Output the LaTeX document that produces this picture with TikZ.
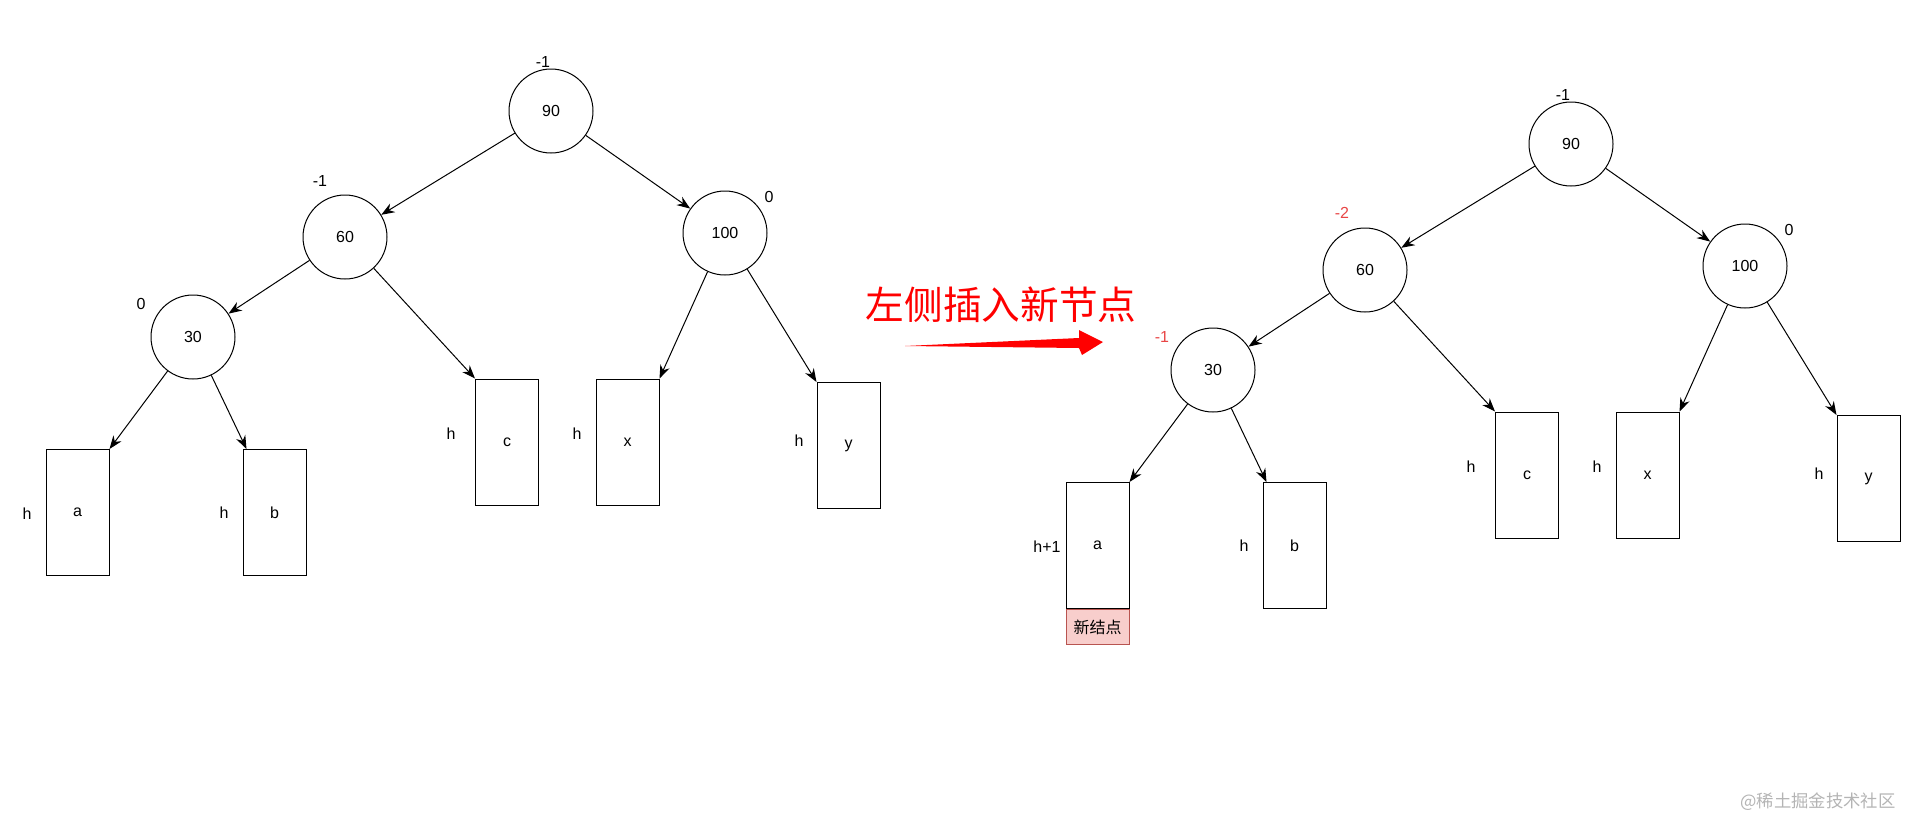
\documentclass[tikz,border=0pt]{standalone}
\usepackage{fontspec}
\setmainfont{Liberation Sans}
\newfontfamily\cjk{Noto Sans CJK SC}
\usetikzlibrary{arrows.meta,calc}
\definecolor{lblred}{HTML}{E84545}
\definecolor{newfill}{HTML}{F8CECC}
\definecolor{newdraw}{HTML}{B85450}
\definecolor{wmgray}{HTML}{B4B4B4}
\begin{document}
\begin{tikzpicture}[x=0.75pt,y=-0.75pt,
  treenode/.style={circle,draw,line width=0.75pt,minimum size=63pt,inner sep=0pt,font=\fontsize{12}{14}\selectfont},
  leaf/.style={rectangle,draw,line width=0.75pt,minimum width=47.25pt,minimum height=94.5pt,inner sep=0pt,font=\fontsize{12}{14}\selectfont},
  lbl/.style={inner sep=0pt,font=\fontsize{12}{14}\selectfont},
  redlbl/.style={lbl,text=lblred},
  edge/.style={draw,line width=0.75pt,-{Stealth[length=10pt,width=7.5pt]}}]
\useasboundingbox (0,0) rectangle (1906,818);

% ---------- left tree ----------
\node[treenode] (Ln90) at (551,111) {90};
\node[treenode] (Ln60) at (345,237) {60};
\node[treenode] (Ln100) at (725,233) {100};
\node[treenode] (Ln30) at (193,337) {30};
\node[leaf] (La) at (77.5,512.5) {a};
\node[leaf] (Lb) at (274.5,512.5) {b};
\node[leaf] (Lc) at (507,442) {c};
\node[leaf] (Lx) at (627.5,442) {x};
\node[leaf] (Ly) at (848.5,445.5) {y};
\node[lbl] (Ll90) at (543,62) {-1};
\node[lbl] (Ll60) at (320,181) {-1};
\node[lbl] (Ll100) at (769,197) {0};
\node[lbl] (Ll30) at (141,304) {0};
\node[lbl] (Lha) at (27,514) {h};
\node[lbl] (Lhb) at (224,513) {h};
\node[lbl] (Lhc) at (451,434) {h};
\node[lbl] (Lhx) at (577,434) {h};
\node[lbl] (Lhy) at (799,441) {h};
\draw[edge] (Ln90) -- (Ln60);
\draw[edge] (Ln90) -- (Ln100);
\draw[edge] (Ln60) -- (Ln30);
\draw[edge] (Ln60) -- (Lc.north west);
\draw[edge] (Ln30) -- (La.north east);
\draw[edge] (Ln30) -- ($(Lb.north west)+(4,0)$);
\draw[edge] (Ln100) -- (Lx.north east);
\draw[edge] (Ln100) -- (Ly.north west);

% ---------- middle arrow ----------
\node[inner sep=0pt,text=red,font=\cjk\fontsize{29}{32}\selectfont] (title) at (1001,305) {左侧插入新节点};
\fill[red] (905,346) -- (1079,338) -- (1079,330) -- (1103,342) -- (1082,355) -- (1079,348) -- cycle;

% ---------- right tree ----------
\begin{scope}[shift={(1020,33)}]
\node[treenode] (Rn90) at (551,111) {90};
\node[treenode] (Rn60) at (345,237) {60};
\node[treenode] (Rn100) at (725,233) {100};
\node[treenode] (Rn30) at (193,337) {30};
\node[leaf] (Ra) at (77.5,512.5) {a};
\node[leaf] (Rb) at (274.5,512.5) {b};
\node[leaf] (Rc) at (507,442) {c};
\node[leaf] (Rx) at (627.5,442) {x};
\node[leaf] (Ry) at (848.5,445.5) {y};
\node[lbl] (Rl90) at (543,62) {-1};
\node[redlbl] (Rl60) at (322,180) {-2};
\node[lbl] (Rl100) at (769,197) {0};
\node[redlbl] (Rl30) at (142,304) {-1};
\node[lbl] (Rha) at (27,514) {h+1};
\node[lbl] (Rhb) at (224,513) {h};
\node[lbl] (Rhc) at (451,434) {h};
\node[lbl] (Rhx) at (577,434) {h};
\node[lbl] (Rhy) at (799,441) {h};
\end{scope}
\node[rectangle,draw=newdraw,fill=newfill,line width=0.75pt,minimum width=47.25pt,minimum height=26.25pt,inner sep=0pt,anchor=north,font=\cjk\fontsize{12}{14}\selectfont] (Rnew) at (Ra.south) {新结点};
\draw[edge] (Rn90) -- (Rn60);
\draw[edge] (Rn90) -- (Rn100);
\draw[edge] (Rn60) -- (Rn30);
\draw[edge] (Rn60) -- (Rc.north west);
\draw[edge] (Rn30) -- (Ra.north east);
\draw[edge] (Rn30) -- ($(Rb.north west)+(4,0)$);
\draw[edge] (Rn100) -- (Rx.north east);
\draw[edge] (Rn100) -- (Ry.north west);

% ---------- watermark ----------
\node[inner sep=0pt,text=wmgray,font=\cjk\fontsize{13}{15}\selectfont] (wm) at (1818,802) {@稀土掘金技术社区};
\end{tikzpicture}
\end{document}
